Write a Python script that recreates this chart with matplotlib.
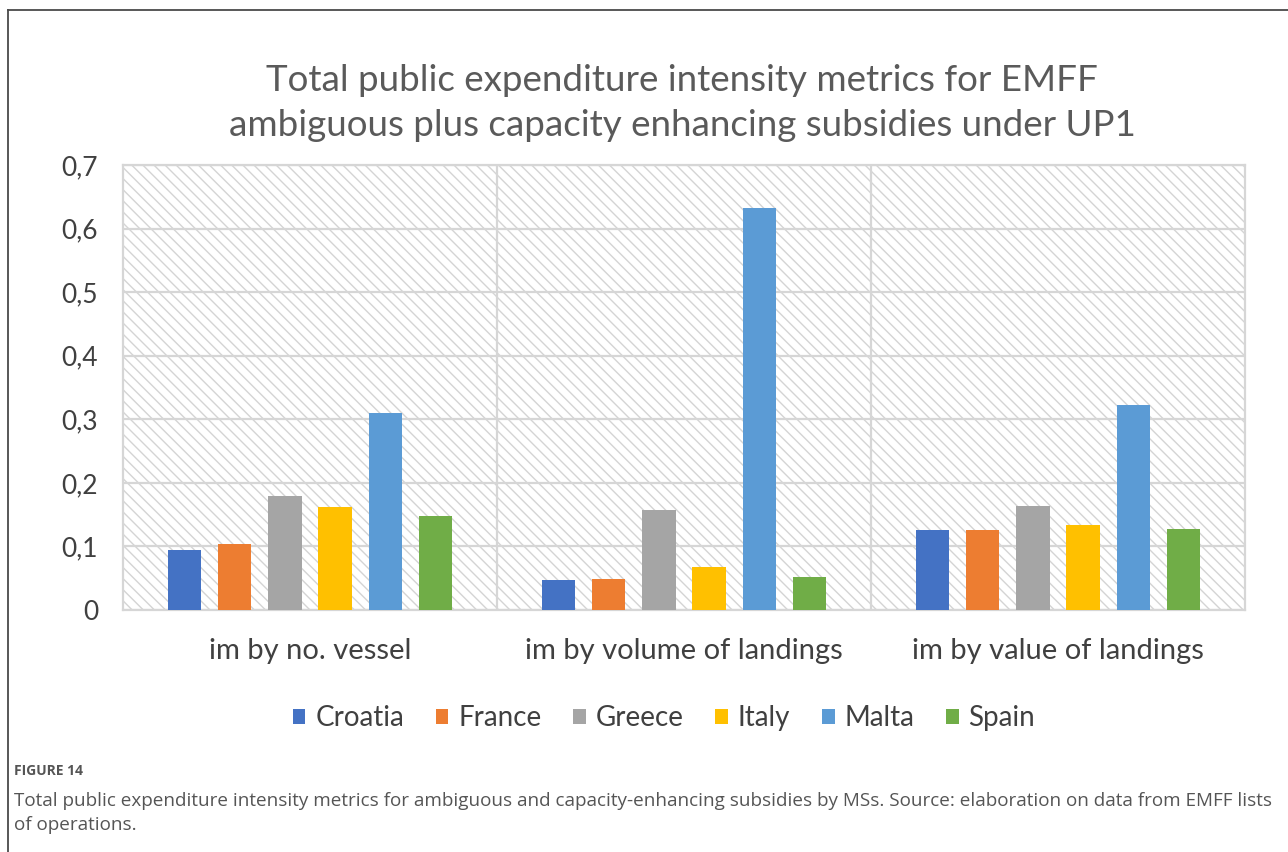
import matplotlib
matplotlib.use("Agg")
import matplotlib.pyplot as plt
import numpy as np
from matplotlib.patches import Rectangle
from matplotlib.lines import Line2D

plt.rcParams['hatch.linewidth'] = 1.0
plt.rcParams['hatch.color'] = '#d4d4d4'

categories = ["im by no. vessel", "im by volume of landings", "im by value of landings"]
countries = ["Croatia", "France", "Greece", "Italy", "Malta", "Spain"]
colors = ["#4472c4", "#ed7d31", "#a5a5a5", "#ffc000", "#5b9bd5", "#70ad47"]
values = {
    "Croatia": [0.094, 0.047, 0.126],
    "France":  [0.104, 0.049, 0.126],
    "Greece":  [0.180, 0.157, 0.164],
    "Italy":   [0.162, 0.067, 0.133],
    "Malta":   [0.310, 0.632, 0.323],
    "Spain":   [0.148, 0.052, 0.127],
}
yticks = [0, 0.1, 0.2, 0.3, 0.4, 0.5, 0.6, 0.7]
ytick_labels = ["0", "0,1", "0,2", "0,3", "0,4", "0,5", "0,6", "0,7"]

title = "Total public expenditure intensity metrics for EMFF\nambiguous plus capacity enhancing subsidies under UP1"
caption_head = "FIGURE 14"
caption = ("Total public expenditure intensity metrics for ambiguous and capacity-enhancing subsidies by MSs. "
           "Source: elaboration on data from EMFF lists\nof operations.")

W, H = 1288, 852
fig = plt.figure(figsize=(W / 100, H / 100), dpi=100)
fig.patch.set_facecolor("white")

# outer frame (top and left edges)
fig.add_artist(Line2D([8 / W, 8 / W], [0, 1 - 10 / H], color="#4a4a4a", lw=1.3))
fig.add_artist(Line2D([8 / W, 1], [1 - 10 / H, 1 - 10 / H], color="#4a4a4a", lw=1.3))

left, right, top, bottom = 123, 1245, 165, 610
ax = fig.add_axes([left / W, 1 - bottom / H, (right - left) / W, (bottom - top) / H])
ax.set_xlim(-0.5, 2.5)
ax.set_ylim(0, 0.7)

# hatched plot area background
ax.add_patch(Rectangle((0, 0), 1, 1, transform=ax.transAxes, facecolor="white",
                       edgecolor="#d4d4d4", hatch="\\\\\\", lw=0, zorder=0))

grid_c = "#d6d6d6"
for y in yticks:
    ax.axhline(y, color=grid_c, lw=1.6, zorder=1)
for xv in [0.5, 1.5]:
    ax.axvline(xv, color=grid_c, lw=1.6, zorder=1)
for s in ax.spines.values():
    s.set_color(grid_c)
    s.set_linewidth(1.6)

x = np.arange(len(categories))
step = 0.134
width = 0.089
for i, (c, col) in enumerate(zip(countries, colors)):
    ax.bar(x + (i - 2.5) * step, values[c], width=width, color=col, zorder=3, label=c)

ax.set_yticks(yticks)
ax.set_yticklabels(ytick_labels)
ax.set_xticks(x)
ax.set_xticklabels(categories)
ax.tick_params(axis="both", length=0, labelcolor="#404040")
ax.tick_params(axis="y", pad=18, labelsize=19)
ax.tick_params(axis="x", pad=20, labelsize=21)
for lab in ax.get_xticklabels() + ax.get_yticklabels():
    lab.set_family("Lato")

fig.text(682 / W, 1 - 103 / H, title, ha="center", va="center", fontsize=26.5,
         color="#5a5a5a", family="Lato", linespacing=1.42)

handles = [Rectangle((0, 0), 1, 1, facecolor=col, edgecolor="none") for col in colors]
leg = fig.legend(handles, countries, loc="center", bbox_to_anchor=(664 / W, 1 - 718 / H),
                 ncol=6, frameon=False, handlelength=0.45, handleheight=0.45,
                 handletextpad=0.35, columnspacing=1.15,
                 prop={"family": "Lato", "size": 20})
for t in leg.get_texts():
    t.set_color("#404040")

fig.text(14 / W, 1 - 771 / H, caption_head, ha="left", va="center", fontsize=10,
         color="#555555", family="Open Sans", weight="bold")
fig.text(14 / W, 1 - 813 / H, caption, ha="left", va="center", fontsize=13.6,
         color="#555555", family="Open Sans", linespacing=1.5)

fig.savefig("out.png", dpi=100, facecolor="white")
